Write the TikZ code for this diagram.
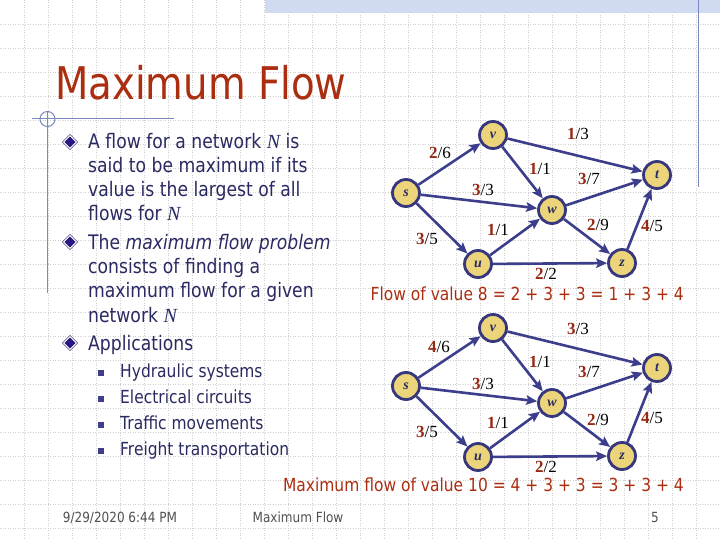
\documentclass[tikz,border=0pt]{standalone}
\usepackage{fontspec}
\setmainfont{DejaVu Sans}[FakeStretch=0.86]
\newfontfamily\serifnum{Liberation Serif}
\usepackage{xcolor}
\usetikzlibrary{arrows.meta,shapes.geometric}

\definecolor{ttl}{RGB}{172,46,16}
\definecolor{txt}{RGB}{42,42,98}
\definecolor{blt}{RGB}{42,22,135}
\definecolor{sqc}{RGB}{62,62,140}
\definecolor{ndfill}{RGB}{236,212,122}
\definecolor{ndline}{RGB}{55,55,125}
\definecolor{edge}{RGB}{60,62,140}
\definecolor{num}{RGB}{150,40,20}
\definecolor{grdc}{RGB}{208,208,208}
\definecolor{bnd}{RGB}{208,218,240}
\definecolor{rl}{RGB}{125,138,190}
\definecolor{ftc}{RGB}{80,80,80}

\newcommand{\flw}[2]{{\color{num}\bfseries #1}/#2}
\newcommand{\Nn}{{\serifnum\itshape N}}

\begin{document}
\begin{tikzpicture}[x=1pt, y=-1pt,
  vx/.style={circle, draw=ndline, line width=2.8pt, fill=ndfill, minimum size=27pt, inner sep=0pt, text=txt, font=\serifnum\bfseries\itshape\fontsize{14}{14}\selectfont},
  ed/.style={draw=edge, line width=2.6pt, -{Stealth[length=11pt,width=9.5pt,inset=2pt]}},
  fl/.style={inner sep=0pt, font=\serifnum\fontsize{17}{17}\selectfont},
  bt/.style={anchor=base west, inner sep=0pt, align=left, text=txt, font=\fontsize{20}{24.2}\selectfont},
  st/.style={anchor=base west, inner sep=0pt, text=txt, font=\fontsize{18}{18}\selectfont},
  dm/.style={diamond, fill=blt, draw=blt!70!black, double=white, double distance=1pt, line width=0.5pt, minimum size=13pt, inner sep=0pt},
  sq/.style={fill=sqc, minimum size=5.5pt, inner sep=0pt},
  cp/.style={anchor=base east, inner sep=0pt, text=ttl, font=\fontsize{18}{18}\selectfont},
  ft/.style={anchor=base, inner sep=0pt, text=ftc, font=\fontsize{14}{14}\selectfont},
  grd/.style={draw=grdc, line width=0.6pt, dash pattern=on 1pt off 1.5pt}
]
  \useasboundingbox (0,0) rectangle (720,540);
  \fill[white] (0,0) rectangle (720,540);
  \foreach \i in {24,48,...,696} \draw[grd] (\i,0) -- (\i,540);
  \foreach \j in {24,48,...,528} \draw[grd] (0,\j) -- (720,\j);
  \fill[bnd] (265,0) rectangle (720,13);
  \draw[rl, line width=1pt] (698,0) -- (698,187);
  \draw[rl, line width=1pt] (32,119) -- (174,119);
  \draw[rl, line width=1pt] (47.5,112) -- (47.5,293);
  \draw[rl, line width=1pt] (47.5,119) circle[radius=7.5pt];

  \node[anchor=base west, inner sep=0pt, text=ttl, font=\fontsize{45}{45}\selectfont] (title) at (55,100) {Maximum Flow};

  \node[dm] (d1) at (70,142) {};
  \node[dm] (d2) at (70,242) {};
  \node[dm] (d3) at (70,343) {};
  \node[bt] (b1) at (88,221) {A flow for a network \Nn{} is\\said to be maximum if its\\value is the largest of all\\flows for \Nn};
  \node[bt] (b2) at (88,322) {The \textit{maximum flow problem}\\consists of finding a\\maximum flow for a given\\network \Nn};
  \node[bt] (b3) at (88,350) {Applications};
  \node[sq] (q1) at (101,373) {};
  \node[sq] (q2) at (101,399) {};
  \node[sq] (q3) at (101,425) {};
  \node[sq] (q4) at (101,451) {};
  \node[st] (a1) at (120,377) {Hydraulic systems};
  \node[st] (a2) at (120,403) {Electrical circuits};
  \node[st] (a3) at (120,429) {Traffic movements};
  \node[st] (a4) at (120,455) {Freight transportation};

  \node[vx] (s1) at (406,193) {s};
  \node[vx] (v1) at (493,135) {v};
  \node[vx] (w1) at (552,210) {w};
  \node[vx] (t1) at (657,175) {t};
  \node[vx] (u1) at (478,264) {u};
  \node[vx] (z1) at (622,263) {z};
  \draw[ed] (s1) -- (v1);
  \draw[ed] (s1) -- (w1);
  \draw[ed] (s1) -- (u1);
  \draw[ed] (v1) -- (w1);
  \draw[ed] (v1) -- (t1);
  \draw[ed] (u1) -- (w1);
  \draw[ed] (u1) -- (z1);
  \draw[ed] (w1) -- (t1);
  \draw[ed] (w1) -- (z1);
  \draw[ed] (z1) -- (t1);
  \node[fl] (sv1) at (440,153) {\flw{2}{6}};
  \node[fl] (vt1) at (578,134) {\flw{1}{3}};
  \node[fl] (vw1) at (540,169) {\flw{1}{1}};
  \node[fl] (wt1) at (589,179) {\flw{3}{7}};
  \node[fl] (sw1) at (483,190) {\flw{3}{3}};
  \node[fl] (wz1) at (598,225) {\flw{2}{9}};
  \node[fl] (zt1) at (652,226) {\flw{4}{5}};
  \node[fl] (uw1) at (498,230) {\flw{1}{1}};
  \node[fl] (su1) at (427,239) {\flw{3}{5}};
  \node[fl] (uz1) at (546,274) {\flw{2}{2}};
  \node[cp] (cap1) at (684,300) {Flow of value 8 = 2 + 3 + 3 = 1 + 3 + 4};

  \node[vx] (s2) at (406,386) {s};
  \node[vx] (v2) at (493,328) {v};
  \node[vx] (w2) at (552,403) {w};
  \node[vx] (t2) at (657,368) {t};
  \node[vx] (u2) at (478,457) {u};
  \node[vx] (z2) at (622,456) {z};
  \draw[ed] (s2) -- (v2);
  \draw[ed] (s2) -- (w2);
  \draw[ed] (s2) -- (u2);
  \draw[ed] (v2) -- (w2);
  \draw[ed] (v2) -- (t2);
  \draw[ed] (u2) -- (w2);
  \draw[ed] (u2) -- (z2);
  \draw[ed] (w2) -- (t2);
  \draw[ed] (w2) -- (z2);
  \draw[ed] (z2) -- (t2);
  \node[fl] (sv2) at (439,347) {\flw{4}{6}};
  \node[fl] (vt2) at (578,329) {\flw{3}{3}};
  \node[fl] (vw2) at (540,362) {\flw{1}{1}};
  \node[fl] (wt2) at (589,372) {\flw{3}{7}};
  \node[fl] (sw2) at (483,384) {\flw{3}{3}};
  \node[fl] (wz2) at (598,420) {\flw{2}{9}};
  \node[fl] (zt2) at (652,418) {\flw{4}{5}};
  \node[fl] (uw2) at (498,423) {\flw{1}{1}};
  \node[fl] (su2) at (427,432) {\flw{3}{5}};
  \node[fl] (uz2) at (546,467) {\flw{2}{2}};
  \node[cp] (cap2) at (684,491) {Maximum flow of value 10 = 4 + 3 + 3 = 3 + 3 + 4};

  \node[ft] (date) at (120,522) {9/29/2020 6:44 PM};
  \node[ft] (foot) at (298,522) {Maximum Flow};
  \node[ft] (page) at (655,522) {5};
\end{tikzpicture}
\end{document}
